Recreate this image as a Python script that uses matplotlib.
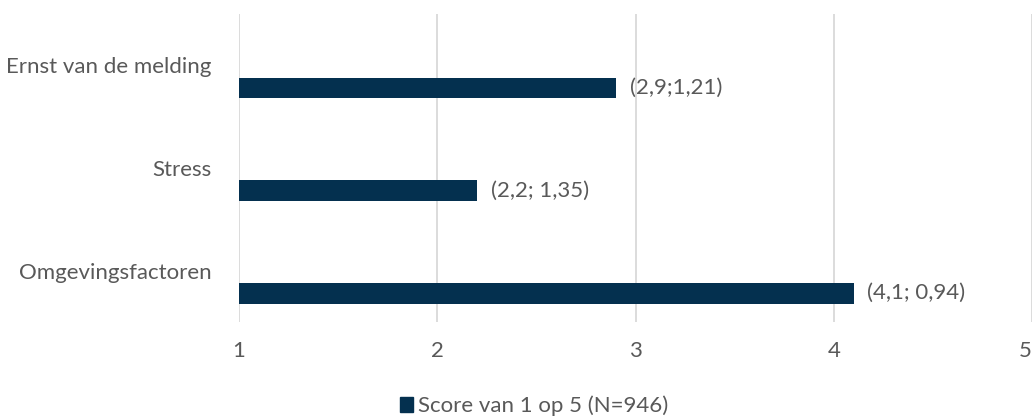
import matplotlib
matplotlib.use("Agg")
import matplotlib.pyplot as plt
from matplotlib.patches import Patch

categories = ["Ernst van de melding", "Stress", "Omgevingsfactoren"]
scores = [2.9, 2.2, 4.1]
labels = ["(2,9;1,21)", "(2,2; 1,35)", "(4,1; 0,94)"]
xticks = [1, 2, 3, 4, 5]
series_name = "Score van 1 op 5 (N=946)"

bar_color = "#04304F"
text_color = "#595959"
grid_color = "#D9D9D9"

plt.rcParams['font.family'] = ['Lato', 'DejaVu Sans']
fs = 16

fig = plt.figure(figsize=(10.34, 4.17), dpi=100)
ax = fig.add_axes([239/1034, 1 - 322/417, (1032-239)/1034, (322-14)/417])

ypos = list(range(len(categories)))
offset = 0.22
ax.barh([y + offset for y in ypos], [s - 1 for s in scores], left=1, height=0.2,
        color=bar_color, zorder=3)
for y, s, lab in zip(ypos, scores, labels):
    ax.text(s + 0.07, y + offset, lab, va='center', ha='left', fontsize=fs, color=text_color)

ax.set_xlim(1, 5)
ax.set_ylim(len(categories) - 0.5, -0.5)
ax.set_xticks(xticks)
ax.set_xticklabels([str(x) for x in xticks], fontsize=fs, color=text_color)
ax.get_xticklabels()[-1].set_horizontalalignment('right')
ax.set_yticks(ypos)
ax.set_yticklabels(categories, fontsize=fs, color=text_color)
ax.tick_params(axis='both', length=0)
ax.tick_params(axis='x', pad=14)
ax.tick_params(axis='y', pad=20)
ax.grid(axis='x', color=grid_color, linewidth=1.3, zorder=0)
for sp in ax.spines.values():
    sp.set_visible(False)

fig.legend(handles=[Patch(color=bar_color, label=series_name)], loc='center',
           bbox_to_anchor=(534/1034, 1 - 406/417), frameon=False, fontsize=fs,
           labelcolor=text_color, handlelength=0.6, handleheight=0.6, handletextpad=0.2,
           borderpad=0)

fig.savefig("out.png", dpi=100)
